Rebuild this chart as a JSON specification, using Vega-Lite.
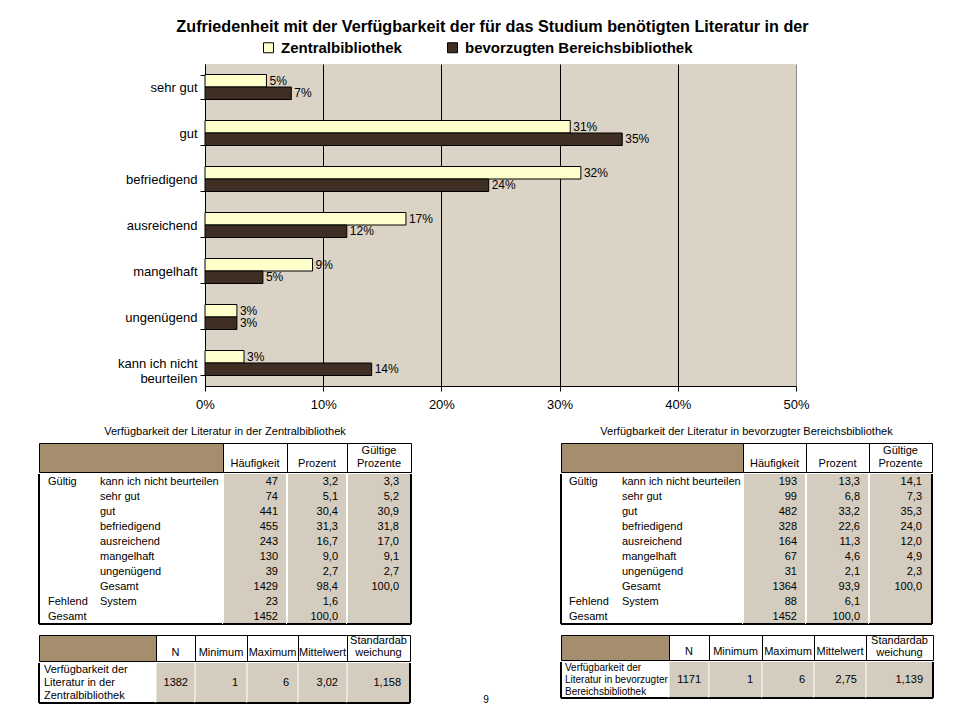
{
  "$schema": "https://vega.github.io/schema/vega-lite/v6.json",
  "background": "white",
  "padding": {"left": 38, "top": 18, "right": 5, "bottom": 5},
  "config": {
    "font": "Liberation Sans",
    "view": {"stroke": null},
    "text": {"font": "Liberation Sans", "fontSize": 11, "color": "black"},
    "rule": {"color": "black"},
    "title": {"color": "black", "font": "Liberation Sans"},
    "axis": {"labelFont": "Liberation Sans"},
    "legend": {"labelFont": "Liberation Sans"},
    "locale": {"number": {"decimal": ",", "thousands": ".", "grouping": [3], "currency": ["", " €"]}}
  },
  "datasets": {
    "balken": [
      {"stufe": "sehr gut", "bibliothek": "Zentralbibliothek", "anteil": 0.052},
      {"stufe": "sehr gut", "bibliothek": "bevorzugten Bereichsbibliothek", "anteil": 0.073},
      {"stufe": "gut", "bibliothek": "Zentralbibliothek", "anteil": 0.309},
      {"stufe": "gut", "bibliothek": "bevorzugten Bereichsbibliothek", "anteil": 0.353},
      {"stufe": "befriedigend", "bibliothek": "Zentralbibliothek", "anteil": 0.318},
      {"stufe": "befriedigend", "bibliothek": "bevorzugten Bereichsbibliothek", "anteil": 0.24},
      {"stufe": "ausreichend", "bibliothek": "Zentralbibliothek", "anteil": 0.17},
      {"stufe": "ausreichend", "bibliothek": "bevorzugten Bereichsbibliothek", "anteil": 0.12},
      {"stufe": "mangelhaft", "bibliothek": "Zentralbibliothek", "anteil": 0.091},
      {"stufe": "mangelhaft", "bibliothek": "bevorzugten Bereichsbibliothek", "anteil": 0.049},
      {"stufe": "ungenügend", "bibliothek": "Zentralbibliothek", "anteil": 0.027},
      {"stufe": "ungenügend", "bibliothek": "bevorzugten Bereichsbibliothek", "anteil": 0.027},
      {"stufe": "kann ich nicht beurteilen", "bibliothek": "Zentralbibliothek", "anteil": 0.033},
      {"stufe": "kann ich nicht beurteilen", "bibliothek": "bevorzugten Bereichsbibliothek", "anteil": 0.141}
    ],
    "haeufigkeiten": [
      {"tabelle": "Zentralbibliothek", "zeile": "Gültig: kann ich nicht beurteilen", "gruppe": "Gültig", "kategorie": "kann ich nicht beurteilen", "haeufigkeit": 47, "prozent": 3.2, "gueltigeProzente": 3.3},
      {"tabelle": "Zentralbibliothek", "zeile": "Gültig: sehr gut", "gruppe": "", "kategorie": "sehr gut", "haeufigkeit": 74, "prozent": 5.1, "gueltigeProzente": 5.2},
      {"tabelle": "Zentralbibliothek", "zeile": "Gültig: gut", "gruppe": "", "kategorie": "gut", "haeufigkeit": 441, "prozent": 30.4, "gueltigeProzente": 30.9},
      {"tabelle": "Zentralbibliothek", "zeile": "Gültig: befriedigend", "gruppe": "", "kategorie": "befriedigend", "haeufigkeit": 455, "prozent": 31.3, "gueltigeProzente": 31.8},
      {"tabelle": "Zentralbibliothek", "zeile": "Gültig: ausreichend", "gruppe": "", "kategorie": "ausreichend", "haeufigkeit": 243, "prozent": 16.7, "gueltigeProzente": 17.0},
      {"tabelle": "Zentralbibliothek", "zeile": "Gültig: mangelhaft", "gruppe": "", "kategorie": "mangelhaft", "haeufigkeit": 130, "prozent": 9.0, "gueltigeProzente": 9.1},
      {"tabelle": "Zentralbibliothek", "zeile": "Gültig: ungenügend", "gruppe": "", "kategorie": "ungenügend", "haeufigkeit": 39, "prozent": 2.7, "gueltigeProzente": 2.7},
      {"tabelle": "Zentralbibliothek", "zeile": "Gültig: Gesamt", "gruppe": "", "kategorie": "Gesamt", "haeufigkeit": 1429, "prozent": 98.4, "gueltigeProzente": 100.0},
      {"tabelle": "Zentralbibliothek", "zeile": "Fehlend: System", "gruppe": "Fehlend", "kategorie": "System", "haeufigkeit": 23, "prozent": 1.6, "gueltigeProzente": null},
      {"tabelle": "Zentralbibliothek", "zeile": "Gesamt", "gruppe": "Gesamt", "kategorie": "", "haeufigkeit": 1452, "prozent": 100.0, "gueltigeProzente": null},
      {"tabelle": "Bereichsbibliothek", "zeile": "Gültig: kann ich nicht beurteilen", "gruppe": "Gültig", "kategorie": "kann ich nicht beurteilen", "haeufigkeit": 193, "prozent": 13.3, "gueltigeProzente": 14.1},
      {"tabelle": "Bereichsbibliothek", "zeile": "Gültig: sehr gut", "gruppe": "", "kategorie": "sehr gut", "haeufigkeit": 99, "prozent": 6.8, "gueltigeProzente": 7.3},
      {"tabelle": "Bereichsbibliothek", "zeile": "Gültig: gut", "gruppe": "", "kategorie": "gut", "haeufigkeit": 482, "prozent": 33.2, "gueltigeProzente": 35.3},
      {"tabelle": "Bereichsbibliothek", "zeile": "Gültig: befriedigend", "gruppe": "", "kategorie": "befriedigend", "haeufigkeit": 328, "prozent": 22.6, "gueltigeProzente": 24.0},
      {"tabelle": "Bereichsbibliothek", "zeile": "Gültig: ausreichend", "gruppe": "", "kategorie": "ausreichend", "haeufigkeit": 164, "prozent": 11.3, "gueltigeProzente": 12.0},
      {"tabelle": "Bereichsbibliothek", "zeile": "Gültig: mangelhaft", "gruppe": "", "kategorie": "mangelhaft", "haeufigkeit": 67, "prozent": 4.6, "gueltigeProzente": 4.9},
      {"tabelle": "Bereichsbibliothek", "zeile": "Gültig: ungenügend", "gruppe": "", "kategorie": "ungenügend", "haeufigkeit": 31, "prozent": 2.1, "gueltigeProzente": 2.3},
      {"tabelle": "Bereichsbibliothek", "zeile": "Gültig: Gesamt", "gruppe": "", "kategorie": "Gesamt", "haeufigkeit": 1364, "prozent": 93.9, "gueltigeProzente": 100.0},
      {"tabelle": "Bereichsbibliothek", "zeile": "Fehlend: System", "gruppe": "Fehlend", "kategorie": "System", "haeufigkeit": 88, "prozent": 6.1, "gueltigeProzente": null},
      {"tabelle": "Bereichsbibliothek", "zeile": "Gesamt", "gruppe": "Gesamt", "kategorie": "", "haeufigkeit": 1452, "prozent": 100.0, "gueltigeProzente": null}
    ],
    "statistiken": [
      {"tabelle": "Zentralbibliothek", "variable": "Verfügbarkeit der\nLiteratur in der\nZentralbibliothek", "n": 1382, "minimum": 1, "maximum": 6, "mittelwert": 3.02, "standardabweichung": 1.158},
      {"tabelle": "Bereichsbibliothek", "variable": "Verfügbarkeit der\nLiteratur in bevorzugter\nBereichsbibliothek", "n": 1171, "minimum": 1, "maximum": 6, "mittelwert": 2.75, "standardabweichung": 1.139}
    ],
    "kopfzeilen": [
      {"spalte": "vorspalte", "titel": ""},
      {"spalte": "haeufigkeit", "titel": "Häufigkeit"},
      {"spalte": "prozent", "titel": "Prozent"},
      {"spalte": "gueltigeProzente", "titel": "Gültige\nProzente"},
      {"spalte": "n", "titel": "N"},
      {"spalte": "minimum", "titel": "Minimum"},
      {"spalte": "maximum", "titel": "Maximum"},
      {"spalte": "mittelwert", "titel": "Mittelwert"},
      {"spalte": "standardabweichung", "titel": "Standardab\nweichung"}
    ]
  },
  "spacing": 14,
  "vconcat": [
    {
      "spacing": 0,
      "hconcat": [
        {"width": 1, "height": 1, "data": {"values": [{}]}, "mark": {"type": "text"}, "encoding": {"text": {"value": ""}}},
        {
          "width": 591,
          "height": 322,
          "title": {"text": "Zufriedenheit mit der Verfügbarkeit der für das Studium benötigten Literatur in der", "fontSize": 16.2, "fontWeight": "bold", "anchor": "middle", "offset": 23, "dx": -8},
          "data": {"name": "balken"},
          "view": {"fill": "#dbd3c6", "stroke": null},
          "encoding": {
            "y": {"field": "stufe", "type": "nominal", "sort": null, "title": null,
              "scale": {"paddingInner": 0.457, "paddingOuter": 0.2285},
              "axis": {"tickBand": "extent", "labelFontSize": 13, "labelColor": "black", "domainColor": "black", "tickColor": "black", "tickSize": 5, "labelPadding": 3, "minExtent": 165, "labelLineHeight": 15,
                "labelExpr": "datum.value == 'kann ich nicht beurteilen' ? ['kann ich nicht', 'beurteilen'] : datum.value"}},
            "yOffset": {"field": "bibliothek", "type": "nominal", "sort": null, "scale": {"paddingInner": 0}},
            "x": {"field": "anteil", "type": "quantitative", "scale": {"domain": [0, 0.5]},
              "axis": {"title": null, "format": ".0%", "values": [0, 0.1, 0.2, 0.3, 0.4, 0.5], "grid": true,
                "gridColor": {"condition": {"test": "datum.value >= 0.5", "value": "#8a8a8a"}, "value": "black"},
                "gridOpacity": 1, "domainColor": "black", "tickColor": "black", "tickSize": 5, "labelFontSize": 13, "labelColor": "black", "labelPadding": 7, "labelFlush": false}}
          },
          "layer": [
            {
              "mark": {"type": "bar", "stroke": "black", "strokeWidth": 1},
              "encoding": {
                "color": {"field": "bibliothek", "type": "nominal", "sort": null,
                  "scale": {"range": ["#ffffcc", "#3e2e23"]},
                  "legend": {"orient": "none", "legendX": 222, "legendY": -24, "direction": "horizontal", "title": null, "padding": 0,
                    "symbolType": "square", "symbolSize": 100, "symbolStrokeColor": "black", "symbolStrokeWidth": 1, "symbolOpacity": 1,
                    "labelFontSize": 15, "labelFontWeight": "bold", "labelColor": "black", "labelOffset": 5, "labelLimit": 400, "columnPadding": 43}}
              }
            },
            {
              "mark": {"type": "text", "align": "left", "dx": 3, "fontSize": 12},
              "encoding": {"text": {"field": "anteil", "type": "quantitative", "format": ".0%"}}
            }
          ]
        }
      ]
    },
    {
      "spacing": 0,
      "hconcat": [
        {
          "spacing": 9,
          "vconcat": [
            {
              "title": {"text": "Verfügbarkeit der Literatur in der Zentralbibliothek", "fontSize": 11, "fontWeight": "normal", "anchor": "middle", "frame": "bounds", "offset": 6},
              "spacing": 0,
              "vconcat": [
                {
                  "spacing": 0, "bounds": "flush",
                  "hconcat": [
                    {"width": 184, "height": 29, "data": {"name": "kopfzeilen"}, "transform": [{"filter": "datum.spalte == 'vorspalte'"}], "view": {"fill": "#a58e6e", "stroke": "black"}, "mark": {"type": "text"}, "encoding": {"text": {"field": "titel"}}},
                    {"width": 64, "height": 29, "data": {"name": "kopfzeilen"}, "transform": [{"filter": "datum.spalte == 'haeufigkeit'"}], "view": {"fill": "white", "stroke": "black"}, "mark": {"type": "text", "baseline": "bottom", "lineBreak": "\n", "lineHeight": 13, "dy": -3}, "encoding": {"text": {"field": "titel"}, "y": {"value": "height"}}},
                    {"width": 60, "height": 29, "data": {"name": "kopfzeilen"}, "transform": [{"filter": "datum.spalte == 'prozent'"}], "view": {"fill": "white", "stroke": "black"}, "mark": {"type": "text", "baseline": "bottom", "lineBreak": "\n", "lineHeight": 13, "dy": -3}, "encoding": {"text": {"field": "titel"}, "y": {"value": "height"}}},
                    {"width": 64, "height": 29, "data": {"name": "kopfzeilen"}, "transform": [{"filter": "datum.spalte == 'gueltigeProzente'"}], "view": {"fill": "white", "stroke": "black"}, "mark": {"type": "text", "baseline": "bottom", "lineBreak": "\n", "lineHeight": 13, "dy": -16}, "encoding": {"text": {"field": "titel"}, "y": {"value": "height"}}}
                  ]
                },
                {
                  "spacing": 0, "bounds": "flush",
                  "hconcat": [
                    {"width": 58, "height": 150, "data": {"name": "haeufigkeiten"}, "transform": [{"filter": "datum.tabelle == 'Zentralbibliothek'"}],
                      "layer": [
                        {"mark": {"type": "text", "align": "left", "dx": 9}, "encoding": {"x": {"datum": "gruppe", "type": "nominal", "bandPosition": 0, "axis": null, "scale": {"type": "band", "paddingInner": 0, "paddingOuter": 0}}, "y": {"field": "zeile", "type": "nominal", "sort": null, "axis": null, "scale": {"type": "band", "paddingInner": 0, "paddingOuter": 0}}, "text": {"field": "gruppe"}}},
                        {"mark": {"type": "rule", "strokeWidth": 2}, "encoding": {"x": {"datum": "gruppe", "type": "nominal", "bandPosition": 0, "axis": null, "scale": {"type": "band", "paddingInner": 0, "paddingOuter": 0}}}},
                        {"mark": {"type": "rule", "strokeWidth": 2}, "encoding": {"y": {"value": "height"}}}
                      ]},
                    {"width": 126, "height": 150, "data": {"name": "haeufigkeiten"}, "transform": [{"filter": "datum.tabelle == 'Zentralbibliothek'"}],
                      "layer": [
                        {"mark": {"type": "text", "align": "left", "dx": 3}, "encoding": {"x": {"datum": "kategorie", "type": "nominal", "bandPosition": 0, "axis": null, "scale": {"type": "band", "paddingInner": 0, "paddingOuter": 0}}, "y": {"field": "zeile", "type": "nominal", "sort": null, "axis": null, "scale": {"type": "band", "paddingInner": 0, "paddingOuter": 0}}, "text": {"field": "kategorie"}}},
                        {"mark": {"type": "rule", "strokeWidth": 2}, "encoding": {"y": {"value": "height"}}}
                      ]},
                    {"width": 64, "height": 150, "data": {"name": "haeufigkeiten"}, "transform": [{"filter": "datum.tabelle == 'Zentralbibliothek'"}], "view": {"fill": "#d4ccbf"},
                      "layer": [
                        {"mark": {"type": "rule", "strokeWidth": 1, "color": "white"}, "encoding": {"x": {"datum": "haeufigkeit", "type": "nominal", "bandPosition": 0, "axis": null, "scale": {"type": "band", "paddingInner": 0, "paddingOuter": 0}}}},
                        {"mark": {"type": "text", "align": "right", "dx": -9}, "encoding": {"x": {"datum": "haeufigkeit", "type": "nominal", "bandPosition": 1, "axis": null, "scale": {"type": "band", "paddingInner": 0, "paddingOuter": 0}}, "y": {"field": "zeile", "type": "nominal", "sort": null, "axis": null, "scale": {"type": "band", "paddingInner": 0, "paddingOuter": 0}}, "text": {"field": "haeufigkeit", "type": "quantitative", "format": "d"}}},
                        {"mark": {"type": "rule", "strokeWidth": 2}, "encoding": {"y": {"value": "height"}}}
                      ]},
                    {"width": 60, "height": 150, "data": {"name": "haeufigkeiten"}, "transform": [{"filter": "datum.tabelle == 'Zentralbibliothek'"}], "view": {"fill": "#d4ccbf"},
                      "layer": [
                        {"mark": {"type": "rule", "strokeWidth": 1, "color": "white"}, "encoding": {"x": {"datum": "prozent", "type": "nominal", "bandPosition": 0, "axis": null, "scale": {"type": "band", "paddingInner": 0, "paddingOuter": 0}}}},
                        {"mark": {"type": "text", "align": "right", "dx": -9}, "encoding": {"x": {"datum": "prozent", "type": "nominal", "bandPosition": 1, "axis": null, "scale": {"type": "band", "paddingInner": 0, "paddingOuter": 0}}, "y": {"field": "zeile", "type": "nominal", "sort": null, "axis": null, "scale": {"type": "band", "paddingInner": 0, "paddingOuter": 0}}, "text": {"field": "prozent", "type": "quantitative", "format": ".1f"}}},
                        {"mark": {"type": "rule", "strokeWidth": 2}, "encoding": {"y": {"value": "height"}}}
                      ]},
                    {"width": 64, "height": 150, "data": {"name": "haeufigkeiten"}, "transform": [{"filter": "datum.tabelle == 'Zentralbibliothek'"}], "view": {"fill": "#d4ccbf"},
                      "layer": [
                        {"mark": {"type": "rule", "strokeWidth": 1, "color": "white"}, "encoding": {"x": {"datum": "gueltigeProzente", "type": "nominal", "bandPosition": 0, "axis": null, "scale": {"type": "band", "paddingInner": 0, "paddingOuter": 0}}}},
                        {"mark": {"type": "text", "align": "right", "dx": -12}, "encoding": {"x": {"datum": "gueltigeProzente", "type": "nominal", "bandPosition": 1, "axis": null, "scale": {"type": "band", "paddingInner": 0, "paddingOuter": 0}}, "y": {"field": "zeile", "type": "nominal", "sort": null, "axis": null, "scale": {"type": "band", "paddingInner": 0, "paddingOuter": 0}}, "text": {"condition": {"test": "datum.gueltigeProzente == null", "value": ""}, "field": "gueltigeProzente", "type": "quantitative", "format": ".1f"}}},
                        {"mark": {"type": "rule", "strokeWidth": 2}, "encoding": {"x": {"datum": "gueltigeProzente", "type": "nominal", "bandPosition": 1, "axis": null, "scale": {"type": "band", "paddingInner": 0, "paddingOuter": 0}}}},
                        {"mark": {"type": "rule", "strokeWidth": 2}, "encoding": {"y": {"value": "height"}}}
                      ]}
                  ]
                }
              ]
            },
            {
              "spacing": 0,
              "vconcat": [
                {
                  "spacing": 0, "bounds": "flush",
                  "hconcat": [
                    {"width": 117, "height": 26, "data": {"name": "kopfzeilen"}, "transform": [{"filter": "datum.spalte == 'vorspalte'"}], "view": {"fill": "#a58e6e", "stroke": "black"}, "mark": {"type": "text"}, "encoding": {"text": {"field": "titel"}}},
                    {"width": 39, "height": 26, "data": {"name": "kopfzeilen"}, "transform": [{"filter": "datum.spalte == 'n'"}], "view": {"fill": "white", "stroke": "black"}, "mark": {"type": "text", "baseline": "bottom", "lineBreak": "\n", "lineHeight": 13, "dy": -3}, "encoding": {"text": {"field": "titel"}, "y": {"value": "height"}}},
                    {"width": 52, "height": 26, "data": {"name": "kopfzeilen"}, "transform": [{"filter": "datum.spalte == 'minimum'"}], "view": {"fill": "white", "stroke": "black"}, "mark": {"type": "text", "baseline": "bottom", "lineBreak": "\n", "lineHeight": 13, "dy": -3}, "encoding": {"text": {"field": "titel"}, "y": {"value": "height"}}},
                    {"width": 51, "height": 26, "data": {"name": "kopfzeilen"}, "transform": [{"filter": "datum.spalte == 'maximum'"}], "view": {"fill": "white", "stroke": "black"}, "mark": {"type": "text", "baseline": "bottom", "lineBreak": "\n", "lineHeight": 13, "dy": -3}, "encoding": {"text": {"field": "titel"}, "y": {"value": "height"}}},
                    {"width": 49, "height": 26, "data": {"name": "kopfzeilen"}, "transform": [{"filter": "datum.spalte == 'mittelwert'"}], "view": {"fill": "white", "stroke": "black"}, "mark": {"type": "text", "baseline": "bottom", "lineBreak": "\n", "lineHeight": 13, "dy": -3}, "encoding": {"text": {"field": "titel"}, "y": {"value": "height"}}},
                    {"width": 63, "height": 26, "data": {"name": "kopfzeilen"}, "transform": [{"filter": "datum.spalte == 'standardabweichung'"}], "view": {"fill": "white", "stroke": "black"}, "mark": {"type": "text", "baseline": "bottom", "lineBreak": "\n", "lineHeight": 12, "dy": -15}, "encoding": {"text": {"field": "titel"}, "y": {"value": "height"}}}
                  ]
                },
                {
                  "spacing": 0, "bounds": "flush",
                  "hconcat": [
                    {"width": 117, "height": 40, "data": {"name": "statistiken"}, "transform": [{"filter": "datum.tabelle == 'Zentralbibliothek'"}],
                      "layer": [
                        {"mark": {"type": "text", "align": "left", "dx": 5, "dy": -13, "lineBreak": "\n", "lineHeight": 13}, "encoding": {"x": {"datum": "variable", "type": "nominal", "bandPosition": 0, "axis": null, "scale": {"type": "band", "paddingInner": 0, "paddingOuter": 0}}, "text": {"field": "variable"}}},
                        {"mark": {"type": "rule", "strokeWidth": 2}, "encoding": {"x": {"datum": "variable", "type": "nominal", "bandPosition": 0, "axis": null, "scale": {"type": "band", "paddingInner": 0, "paddingOuter": 0}}}},
                        {"mark": {"type": "rule", "strokeWidth": 2}, "encoding": {"y": {"value": "height"}}}
                      ]},
                    {"width": 39, "height": 40, "data": {"name": "statistiken"}, "transform": [{"filter": "datum.tabelle == 'Zentralbibliothek'"}], "view": {"fill": "#d4ccbf"},
                      "layer": [
                        {"mark": {"type": "rule", "strokeWidth": 1, "color": "white"}, "encoding": {"x": {"datum": "n", "type": "nominal", "bandPosition": 0, "axis": null, "scale": {"type": "band", "paddingInner": 0, "paddingOuter": 0}}}},
                        {"mark": {"type": "text", "align": "right", "dx": -7}, "encoding": {"x": {"datum": "n", "type": "nominal", "bandPosition": 1, "axis": null, "scale": {"type": "band", "paddingInner": 0, "paddingOuter": 0}}, "text": {"field": "n", "type": "quantitative", "format": "d"}}},
                        {"mark": {"type": "rule", "strokeWidth": 2}, "encoding": {"y": {"value": "height"}}}
                      ]},
                    {"width": 52, "height": 40, "data": {"name": "statistiken"}, "transform": [{"filter": "datum.tabelle == 'Zentralbibliothek'"}], "view": {"fill": "#d4ccbf"},
                      "layer": [
                        {"mark": {"type": "rule", "strokeWidth": 1, "color": "white"}, "encoding": {"x": {"datum": "minimum", "type": "nominal", "bandPosition": 0, "axis": null, "scale": {"type": "band", "paddingInner": 0, "paddingOuter": 0}}}},
                        {"mark": {"type": "text", "align": "right", "dx": -9}, "encoding": {"x": {"datum": "minimum", "type": "nominal", "bandPosition": 1, "axis": null, "scale": {"type": "band", "paddingInner": 0, "paddingOuter": 0}}, "text": {"field": "minimum", "type": "quantitative", "format": "d"}}},
                        {"mark": {"type": "rule", "strokeWidth": 2}, "encoding": {"y": {"value": "height"}}}
                      ]},
                    {"width": 51, "height": 40, "data": {"name": "statistiken"}, "transform": [{"filter": "datum.tabelle == 'Zentralbibliothek'"}], "view": {"fill": "#d4ccbf"},
                      "layer": [
                        {"mark": {"type": "rule", "strokeWidth": 1, "color": "white"}, "encoding": {"x": {"datum": "maximum", "type": "nominal", "bandPosition": 0, "axis": null, "scale": {"type": "band", "paddingInner": 0, "paddingOuter": 0}}}},
                        {"mark": {"type": "text", "align": "right", "dx": -9}, "encoding": {"x": {"datum": "maximum", "type": "nominal", "bandPosition": 1, "axis": null, "scale": {"type": "band", "paddingInner": 0, "paddingOuter": 0}}, "text": {"field": "maximum", "type": "quantitative", "format": "d"}}},
                        {"mark": {"type": "rule", "strokeWidth": 2}, "encoding": {"y": {"value": "height"}}}
                      ]},
                    {"width": 49, "height": 40, "data": {"name": "statistiken"}, "transform": [{"filter": "datum.tabelle == 'Zentralbibliothek'"}], "view": {"fill": "#d4ccbf"},
                      "layer": [
                        {"mark": {"type": "rule", "strokeWidth": 1, "color": "white"}, "encoding": {"x": {"datum": "mittelwert", "type": "nominal", "bandPosition": 0, "axis": null, "scale": {"type": "band", "paddingInner": 0, "paddingOuter": 0}}}},
                        {"mark": {"type": "text", "align": "right", "dx": -9}, "encoding": {"x": {"datum": "mittelwert", "type": "nominal", "bandPosition": 1, "axis": null, "scale": {"type": "band", "paddingInner": 0, "paddingOuter": 0}}, "text": {"field": "mittelwert", "type": "quantitative", "format": ".2f"}}},
                        {"mark": {"type": "rule", "strokeWidth": 2}, "encoding": {"y": {"value": "height"}}}
                      ]},
                    {"width": 63, "height": 40, "data": {"name": "statistiken"}, "transform": [{"filter": "datum.tabelle == 'Zentralbibliothek'"}], "view": {"fill": "#d4ccbf"},
                      "layer": [
                        {"mark": {"type": "rule", "strokeWidth": 1, "color": "white"}, "encoding": {"x": {"datum": "standardabweichung", "type": "nominal", "bandPosition": 0, "axis": null, "scale": {"type": "band", "paddingInner": 0, "paddingOuter": 0}}}},
                        {"mark": {"type": "text", "align": "right", "dx": -9}, "encoding": {"x": {"datum": "standardabweichung", "type": "nominal", "bandPosition": 1, "axis": null, "scale": {"type": "band", "paddingInner": 0, "paddingOuter": 0}}, "text": {"field": "standardabweichung", "type": "quantitative", "format": ".3f"}}},
                        {"mark": {"type": "rule", "strokeWidth": 2}, "encoding": {"x": {"datum": "standardabweichung", "type": "nominal", "bandPosition": 1, "axis": null, "scale": {"type": "band", "paddingInner": 0, "paddingOuter": 0}}}},
                        {"mark": {"type": "rule", "strokeWidth": 2}, "encoding": {"y": {"value": "height"}}}
                      ]}
                  ]
                }
              ]
            }
          ]
        },
        {
          "width": 148, "height": 262,
          "data": {"values": [{"seite": "9"}]},
          "mark": {"type": "text", "baseline": "bottom", "fontSize": 10},
          "encoding": {"text": {"field": "seite"}, "y": {"value": "height"}}
        },
        {
          "spacing": 9,
          "vconcat": [
            {
              "title": {"text": "Verfügbarkeit der Literatur in bevorzugter Bereichsbibliothek", "fontSize": 11, "fontWeight": "normal", "anchor": "middle", "frame": "bounds", "offset": 6},
              "spacing": 0,
              "vconcat": [
                {
                  "spacing": 0, "bounds": "flush",
                  "hconcat": [
                    {"width": 182, "height": 29, "data": {"name": "kopfzeilen"}, "transform": [{"filter": "datum.spalte == 'vorspalte'"}], "view": {"fill": "#a58e6e", "stroke": "black"}, "mark": {"type": "text"}, "encoding": {"text": {"field": "titel"}}},
                    {"width": 63, "height": 29, "data": {"name": "kopfzeilen"}, "transform": [{"filter": "datum.spalte == 'haeufigkeit'"}], "view": {"fill": "white", "stroke": "black"}, "mark": {"type": "text", "baseline": "bottom", "lineBreak": "\n", "lineHeight": 13, "dy": -3}, "encoding": {"text": {"field": "titel"}, "y": {"value": "height"}}},
                    {"width": 63, "height": 29, "data": {"name": "kopfzeilen"}, "transform": [{"filter": "datum.spalte == 'prozent'"}], "view": {"fill": "white", "stroke": "black"}, "mark": {"type": "text", "baseline": "bottom", "lineBreak": "\n", "lineHeight": 13, "dy": -3}, "encoding": {"text": {"field": "titel"}, "y": {"value": "height"}}},
                    {"width": 63, "height": 29, "data": {"name": "kopfzeilen"}, "transform": [{"filter": "datum.spalte == 'gueltigeProzente'"}], "view": {"fill": "white", "stroke": "black"}, "mark": {"type": "text", "baseline": "bottom", "lineBreak": "\n", "lineHeight": 13, "dy": -16}, "encoding": {"text": {"field": "titel"}, "y": {"value": "height"}}}
                  ]
                },
                {
                  "spacing": 0, "bounds": "flush",
                  "hconcat": [
                    {"width": 58, "height": 150, "data": {"name": "haeufigkeiten"}, "transform": [{"filter": "datum.tabelle == 'Bereichsbibliothek'"}],
                      "layer": [
                        {"mark": {"type": "text", "align": "left", "dx": 8}, "encoding": {"x": {"datum": "gruppe", "type": "nominal", "bandPosition": 0, "axis": null, "scale": {"type": "band", "paddingInner": 0, "paddingOuter": 0}}, "y": {"field": "zeile", "type": "nominal", "sort": null, "axis": null, "scale": {"type": "band", "paddingInner": 0, "paddingOuter": 0}}, "text": {"field": "gruppe"}}},
                        {"mark": {"type": "rule", "strokeWidth": 2}, "encoding": {"x": {"datum": "gruppe", "type": "nominal", "bandPosition": 0, "axis": null, "scale": {"type": "band", "paddingInner": 0, "paddingOuter": 0}}}},
                        {"mark": {"type": "rule", "strokeWidth": 2}, "encoding": {"y": {"value": "height"}}}
                      ]},
                    {"width": 124, "height": 150, "data": {"name": "haeufigkeiten"}, "transform": [{"filter": "datum.tabelle == 'Bereichsbibliothek'"}],
                      "layer": [
                        {"mark": {"type": "text", "align": "left", "dx": 3}, "encoding": {"x": {"datum": "kategorie", "type": "nominal", "bandPosition": 0, "axis": null, "scale": {"type": "band", "paddingInner": 0, "paddingOuter": 0}}, "y": {"field": "zeile", "type": "nominal", "sort": null, "axis": null, "scale": {"type": "band", "paddingInner": 0, "paddingOuter": 0}}, "text": {"field": "kategorie"}}},
                        {"mark": {"type": "rule", "strokeWidth": 2}, "encoding": {"y": {"value": "height"}}}
                      ]},
                    {"width": 63, "height": 150, "data": {"name": "haeufigkeiten"}, "transform": [{"filter": "datum.tabelle == 'Bereichsbibliothek'"}], "view": {"fill": "#d4ccbf"},
                      "layer": [
                        {"mark": {"type": "rule", "strokeWidth": 1, "color": "white"}, "encoding": {"x": {"datum": "haeufigkeit", "type": "nominal", "bandPosition": 0, "axis": null, "scale": {"type": "band", "paddingInner": 0, "paddingOuter": 0}}}},
                        {"mark": {"type": "text", "align": "right", "dx": -9}, "encoding": {"x": {"datum": "haeufigkeit", "type": "nominal", "bandPosition": 1, "axis": null, "scale": {"type": "band", "paddingInner": 0, "paddingOuter": 0}}, "y": {"field": "zeile", "type": "nominal", "sort": null, "axis": null, "scale": {"type": "band", "paddingInner": 0, "paddingOuter": 0}}, "text": {"field": "haeufigkeit", "type": "quantitative", "format": "d"}}},
                        {"mark": {"type": "rule", "strokeWidth": 2}, "encoding": {"y": {"value": "height"}}}
                      ]},
                    {"width": 63, "height": 150, "data": {"name": "haeufigkeiten"}, "transform": [{"filter": "datum.tabelle == 'Bereichsbibliothek'"}], "view": {"fill": "#d4ccbf"},
                      "layer": [
                        {"mark": {"type": "rule", "strokeWidth": 1, "color": "white"}, "encoding": {"x": {"datum": "prozent", "type": "nominal", "bandPosition": 0, "axis": null, "scale": {"type": "band", "paddingInner": 0, "paddingOuter": 0}}}},
                        {"mark": {"type": "text", "align": "right", "dx": -9}, "encoding": {"x": {"datum": "prozent", "type": "nominal", "bandPosition": 1, "axis": null, "scale": {"type": "band", "paddingInner": 0, "paddingOuter": 0}}, "y": {"field": "zeile", "type": "nominal", "sort": null, "axis": null, "scale": {"type": "band", "paddingInner": 0, "paddingOuter": 0}}, "text": {"field": "prozent", "type": "quantitative", "format": ".1f"}}},
                        {"mark": {"type": "rule", "strokeWidth": 2}, "encoding": {"y": {"value": "height"}}}
                      ]},
                    {"width": 63, "height": 150, "data": {"name": "haeufigkeiten"}, "transform": [{"filter": "datum.tabelle == 'Bereichsbibliothek'"}], "view": {"fill": "#d4ccbf"},
                      "layer": [
                        {"mark": {"type": "rule", "strokeWidth": 1, "color": "white"}, "encoding": {"x": {"datum": "gueltigeProzente", "type": "nominal", "bandPosition": 0, "axis": null, "scale": {"type": "band", "paddingInner": 0, "paddingOuter": 0}}}},
                        {"mark": {"type": "text", "align": "right", "dx": -10}, "encoding": {"x": {"datum": "gueltigeProzente", "type": "nominal", "bandPosition": 1, "axis": null, "scale": {"type": "band", "paddingInner": 0, "paddingOuter": 0}}, "y": {"field": "zeile", "type": "nominal", "sort": null, "axis": null, "scale": {"type": "band", "paddingInner": 0, "paddingOuter": 0}}, "text": {"condition": {"test": "datum.gueltigeProzente == null", "value": ""}, "field": "gueltigeProzente", "type": "quantitative", "format": ".1f"}}},
                        {"mark": {"type": "rule", "strokeWidth": 2}, "encoding": {"x": {"datum": "gueltigeProzente", "type": "nominal", "bandPosition": 1, "axis": null, "scale": {"type": "band", "paddingInner": 0, "paddingOuter": 0}}}},
                        {"mark": {"type": "rule", "strokeWidth": 2}, "encoding": {"y": {"value": "height"}}}
                      ]}
                  ]
                }
              ]
            },
            {
              "spacing": 0,
              "vconcat": [
                {
                  "spacing": 0, "bounds": "flush",
                  "hconcat": [
                    {"width": 108, "height": 25, "data": {"name": "kopfzeilen"}, "transform": [{"filter": "datum.spalte == 'vorspalte'"}], "view": {"fill": "#a58e6e", "stroke": "black"}, "mark": {"type": "text"}, "encoding": {"text": {"field": "titel"}}},
                    {"width": 40, "height": 25, "data": {"name": "kopfzeilen"}, "transform": [{"filter": "datum.spalte == 'n'"}], "view": {"fill": "white", "stroke": "black"}, "mark": {"type": "text", "baseline": "bottom", "lineBreak": "\n", "lineHeight": 13, "dy": -3}, "encoding": {"text": {"field": "titel"}, "y": {"value": "height"}}},
                    {"width": 53, "height": 25, "data": {"name": "kopfzeilen"}, "transform": [{"filter": "datum.spalte == 'minimum'"}], "view": {"fill": "white", "stroke": "black"}, "mark": {"type": "text", "baseline": "bottom", "lineBreak": "\n", "lineHeight": 13, "dy": -3}, "encoding": {"text": {"field": "titel"}, "y": {"value": "height"}}},
                    {"width": 52, "height": 25, "data": {"name": "kopfzeilen"}, "transform": [{"filter": "datum.spalte == 'maximum'"}], "view": {"fill": "white", "stroke": "black"}, "mark": {"type": "text", "baseline": "bottom", "lineBreak": "\n", "lineHeight": 13, "dy": -3}, "encoding": {"text": {"field": "titel"}, "y": {"value": "height"}}},
                    {"width": 52, "height": 25, "data": {"name": "kopfzeilen"}, "transform": [{"filter": "datum.spalte == 'mittelwert'"}], "view": {"fill": "white", "stroke": "black"}, "mark": {"type": "text", "baseline": "bottom", "lineBreak": "\n", "lineHeight": 13, "dy": -3}, "encoding": {"text": {"field": "titel"}, "y": {"value": "height"}}},
                    {"width": 67, "height": 25, "data": {"name": "kopfzeilen"}, "transform": [{"filter": "datum.spalte == 'standardabweichung'"}], "view": {"fill": "white", "stroke": "black"}, "mark": {"type": "text", "baseline": "bottom", "lineBreak": "\n", "lineHeight": 12, "dy": -14}, "encoding": {"text": {"field": "titel"}, "y": {"value": "height"}}}
                  ]
                },
                {
                  "spacing": 0, "bounds": "flush",
                  "hconcat": [
                    {"width": 108, "height": 36, "data": {"name": "statistiken"}, "transform": [{"filter": "datum.tabelle == 'Bereichsbibliothek'"}],
                      "layer": [
                        {"mark": {"type": "text", "align": "left", "dx": 4, "dy": -12, "fontSize": 10, "lineBreak": "\n", "lineHeight": 12}, "encoding": {"x": {"datum": "variable", "type": "nominal", "bandPosition": 0, "axis": null, "scale": {"type": "band", "paddingInner": 0, "paddingOuter": 0}}, "text": {"field": "variable"}}},
                        {"mark": {"type": "rule", "strokeWidth": 2}, "encoding": {"x": {"datum": "variable", "type": "nominal", "bandPosition": 0, "axis": null, "scale": {"type": "band", "paddingInner": 0, "paddingOuter": 0}}}},
                        {"mark": {"type": "rule", "strokeWidth": 2}, "encoding": {"y": {"value": "height"}}}
                      ]},
                    {"width": 40, "height": 36, "data": {"name": "statistiken"}, "transform": [{"filter": "datum.tabelle == 'Bereichsbibliothek'"}], "view": {"fill": "#d4ccbf"},
                      "layer": [
                        {"mark": {"type": "rule", "strokeWidth": 1, "color": "white"}, "encoding": {"x": {"datum": "n", "type": "nominal", "bandPosition": 0, "axis": null, "scale": {"type": "band", "paddingInner": 0, "paddingOuter": 0}}}},
                        {"mark": {"type": "text", "align": "right", "dx": -8}, "encoding": {"x": {"datum": "n", "type": "nominal", "bandPosition": 1, "axis": null, "scale": {"type": "band", "paddingInner": 0, "paddingOuter": 0}}, "text": {"field": "n", "type": "quantitative", "format": "d"}}},
                        {"mark": {"type": "rule", "strokeWidth": 2}, "encoding": {"y": {"value": "height"}}}
                      ]},
                    {"width": 53, "height": 36, "data": {"name": "statistiken"}, "transform": [{"filter": "datum.tabelle == 'Bereichsbibliothek'"}], "view": {"fill": "#d4ccbf"},
                      "layer": [
                        {"mark": {"type": "rule", "strokeWidth": 1, "color": "white"}, "encoding": {"x": {"datum": "minimum", "type": "nominal", "bandPosition": 0, "axis": null, "scale": {"type": "band", "paddingInner": 0, "paddingOuter": 0}}}},
                        {"mark": {"type": "text", "align": "right", "dx": -9}, "encoding": {"x": {"datum": "minimum", "type": "nominal", "bandPosition": 1, "axis": null, "scale": {"type": "band", "paddingInner": 0, "paddingOuter": 0}}, "text": {"field": "minimum", "type": "quantitative", "format": "d"}}},
                        {"mark": {"type": "rule", "strokeWidth": 2}, "encoding": {"y": {"value": "height"}}}
                      ]},
                    {"width": 52, "height": 36, "data": {"name": "statistiken"}, "transform": [{"filter": "datum.tabelle == 'Bereichsbibliothek'"}], "view": {"fill": "#d4ccbf"},
                      "layer": [
                        {"mark": {"type": "rule", "strokeWidth": 1, "color": "white"}, "encoding": {"x": {"datum": "maximum", "type": "nominal", "bandPosition": 0, "axis": null, "scale": {"type": "band", "paddingInner": 0, "paddingOuter": 0}}}},
                        {"mark": {"type": "text", "align": "right", "dx": -9}, "encoding": {"x": {"datum": "maximum", "type": "nominal", "bandPosition": 1, "axis": null, "scale": {"type": "band", "paddingInner": 0, "paddingOuter": 0}}, "text": {"field": "maximum", "type": "quantitative", "format": "d"}}},
                        {"mark": {"type": "rule", "strokeWidth": 2}, "encoding": {"y": {"value": "height"}}}
                      ]},
                    {"width": 52, "height": 36, "data": {"name": "statistiken"}, "transform": [{"filter": "datum.tabelle == 'Bereichsbibliothek'"}], "view": {"fill": "#d4ccbf"},
                      "layer": [
                        {"mark": {"type": "rule", "strokeWidth": 1, "color": "white"}, "encoding": {"x": {"datum": "mittelwert", "type": "nominal", "bandPosition": 0, "axis": null, "scale": {"type": "band", "paddingInner": 0, "paddingOuter": 0}}}},
                        {"mark": {"type": "text", "align": "right", "dx": -9}, "encoding": {"x": {"datum": "mittelwert", "type": "nominal", "bandPosition": 1, "axis": null, "scale": {"type": "band", "paddingInner": 0, "paddingOuter": 0}}, "text": {"field": "mittelwert", "type": "quantitative", "format": ".2f"}}},
                        {"mark": {"type": "rule", "strokeWidth": 2}, "encoding": {"y": {"value": "height"}}}
                      ]},
                    {"width": 67, "height": 36, "data": {"name": "statistiken"}, "transform": [{"filter": "datum.tabelle == 'Bereichsbibliothek'"}], "view": {"fill": "#d4ccbf"},
                      "layer": [
                        {"mark": {"type": "rule", "strokeWidth": 1, "color": "white"}, "encoding": {"x": {"datum": "standardabweichung", "type": "nominal", "bandPosition": 0, "axis": null, "scale": {"type": "band", "paddingInner": 0, "paddingOuter": 0}}}},
                        {"mark": {"type": "text", "align": "right", "dx": -10}, "encoding": {"x": {"datum": "standardabweichung", "type": "nominal", "bandPosition": 1, "axis": null, "scale": {"type": "band", "paddingInner": 0, "paddingOuter": 0}}, "text": {"field": "standardabweichung", "type": "quantitative", "format": ".3f"}}},
                        {"mark": {"type": "rule", "strokeWidth": 2}, "encoding": {"x": {"datum": "standardabweichung", "type": "nominal", "bandPosition": 1, "axis": null, "scale": {"type": "band", "paddingInner": 0, "paddingOuter": 0}}}},
                        {"mark": {"type": "rule", "strokeWidth": 2}, "encoding": {"y": {"value": "height"}}}
                      ]}
                  ]
                }
              ]
            }
          ]
        }
      ]
    }
  ]
}
